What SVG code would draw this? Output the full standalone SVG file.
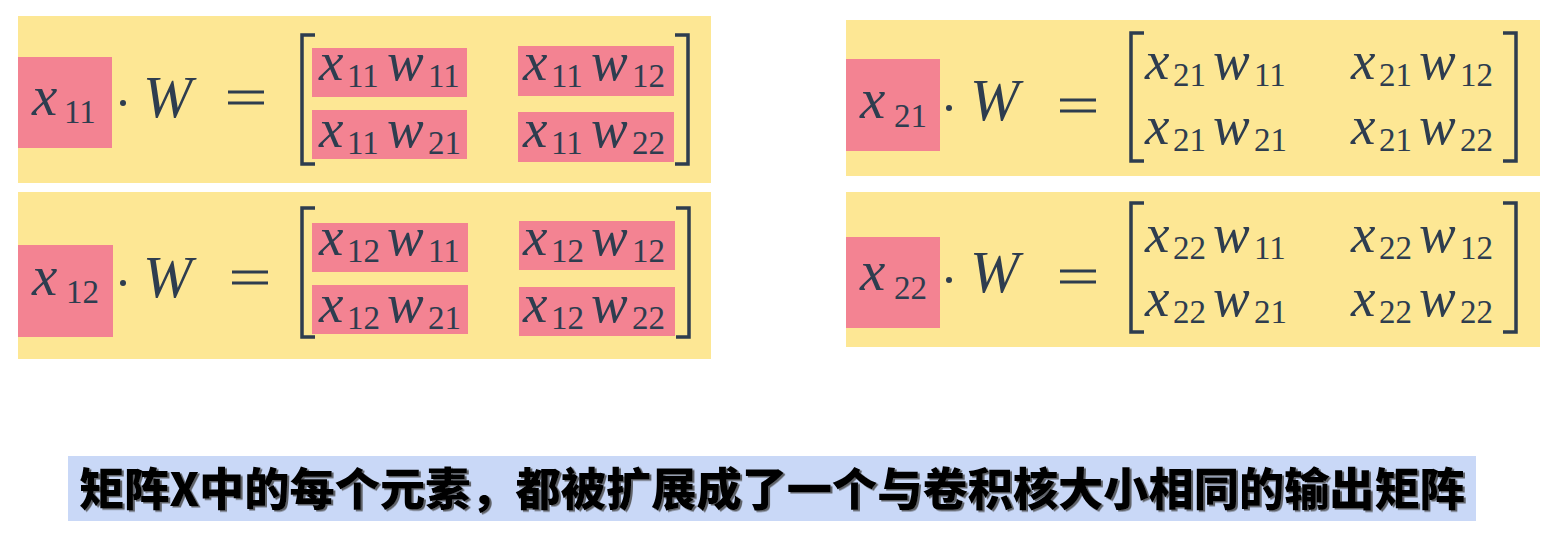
<svg xmlns="http://www.w3.org/2000/svg" width="1559" height="543" viewBox="0 0 1559 543">
<style>
.bg{fill:#ffffff}
.panel{fill:#fde794}
.hl{fill:#f38392}
.v{font-family:'Liberation Serif',serif;font-style:italic;fill:#2e3d4f;font-size:55px}
.vl{font-family:'Liberation Serif',serif;font-style:italic;fill:#2e3d4f;font-size:57px}
.W{font-family:'Liberation Serif',serif;font-style:italic;fill:#2e3d4f;font-size:59px}
.s{font-family:'Liberation Serif',serif;font-style:normal;fill:#2e3d4f;font-size:33px}
.br{fill:none;stroke:#2e3d4f;stroke-width:3.5}
.eq{fill:#2e3d4f}
.cap{font-family:'Noto Sans CJK SC','Noto Sans',sans-serif;font-weight:900;font-size:45px;fill:#000}
</style>
<defs>
<filter id="sh" x="-5%" y="-20%" width="110%" height="140%">
<feDropShadow dx="2" dy="1.5" stdDeviation="0.6" flood-color="#444" flood-opacity="0.8"/>
</filter>
</defs>
<rect class="bg" x="0" y="0" width="1559" height="543"/>

<g id="eq-x11">
<rect class="panel" x="18" y="16" width="693" height="167"/>
<rect class="hl" x="18" y="57" width="94" height="91"/>
<text class="vl" x="32" y="115">x</text>
<text class="s" x="64" y="123" font-size="34">11</text>
<circle class="eq" cx="123" cy="103" r="3"/>
<text class="W" x="143" y="117">W</text>
<rect class="eq" x="228" y="90.5" width="36" height="3"/>
<rect class="eq" x="228" y="101.5" width="36" height="3"/>
<path class="br" d="M315,35 H302 V164 H315"/>
<path class="br" d="M675,35 H688 V164 H675"/>
<rect class="hl" x="312" y="48" width="155" height="49"/>
<rect class="hl" x="312" y="110" width="155" height="49"/>
<rect class="hl" x="518" y="46" width="156" height="50"/>
<rect class="hl" x="518" y="112" width="156" height="50"/>
<text class="v"><tspan x="319" y="80">x</tspan><tspan class="s" x="347" y="87">11</tspan><tspan x="387" y="80">w</tspan><tspan class="s" x="428" y="87">11</tspan></text>
<text class="v"><tspan x="523" y="80">x</tspan><tspan class="s" x="551" y="87">11</tspan><tspan x="591" y="80">w</tspan><tspan class="s" x="632" y="87">12</tspan></text>
<text class="v"><tspan x="319" y="147">x</tspan><tspan class="s" x="347" y="154">11</tspan><tspan x="387" y="147">w</tspan><tspan class="s" x="428" y="154">21</tspan></text>
<text class="v"><tspan x="523" y="147">x</tspan><tspan class="s" x="551" y="154">11</tspan><tspan x="591" y="147">w</tspan><tspan class="s" x="632" y="154">22</tspan></text>
</g>

<g id="eq-x12">
<rect class="panel" x="18" y="192" width="693" height="167"/>
<rect class="hl" x="18" y="245" width="95" height="92"/>
<text class="vl" x="32" y="295">x</text>
<text class="s" x="66" y="303" font-size="34">12</text>
<circle class="eq" cx="123" cy="283" r="3"/>
<text class="W" x="143" y="297">W</text>
<rect class="eq" x="232" y="270.5" width="36" height="3"/>
<rect class="eq" x="232" y="281.5" width="36" height="3"/>
<path class="br" d="M315,208 H302 V337 H315"/>
<path class="br" d="M676,208 H689 V337 H676"/>
<rect class="hl" x="312" y="223" width="156" height="49"/>
<rect class="hl" x="312" y="285" width="156" height="49"/>
<rect class="hl" x="519" y="221" width="156" height="49"/>
<rect class="hl" x="519" y="287" width="156" height="49"/>
<text class="v"><tspan x="319" y="255">x</tspan><tspan class="s" x="347" y="262">12</tspan><tspan x="387" y="255">w</tspan><tspan class="s" x="428" y="262">11</tspan></text>
<text class="v"><tspan x="523" y="255">x</tspan><tspan class="s" x="551" y="262">12</tspan><tspan x="591" y="255">w</tspan><tspan class="s" x="632" y="262">12</tspan></text>
<text class="v"><tspan x="319" y="322">x</tspan><tspan class="s" x="347" y="329">12</tspan><tspan x="387" y="322">w</tspan><tspan class="s" x="428" y="329">21</tspan></text>
<text class="v"><tspan x="523" y="322">x</tspan><tspan class="s" x="551" y="329">12</tspan><tspan x="591" y="322">w</tspan><tspan class="s" x="632" y="329">22</tspan></text>
</g>

<g id="eq-x21">
<rect class="panel" x="846" y="20" width="694" height="156"/>
<rect class="hl" x="846" y="59" width="94" height="92"/>
<text class="vl" x="860" y="118">x</text>
<text class="s" x="894" y="127" font-size="34">21</text>
<circle class="eq" cx="949" cy="108" r="3"/>
<text class="W" x="970" y="120">W</text>
<rect class="eq" x="1060" y="98.5" width="36" height="3"/>
<rect class="eq" x="1060" y="109.5" width="36" height="3"/>
<path class="br" d="M1144,33 H1131 V161 H1144"/>
<path class="br" d="M1503,33 H1516 V161 H1503"/>
<text class="v"><tspan x="1145" y="79">x</tspan><tspan class="s" x="1173" y="86">21</tspan><tspan x="1213" y="79">w</tspan><tspan class="s" x="1254" y="86">11</tspan></text>
<text class="v"><tspan x="1351" y="79">x</tspan><tspan class="s" x="1379" y="86">21</tspan><tspan x="1419" y="79">w</tspan><tspan class="s" x="1460" y="86">12</tspan></text>
<text class="v"><tspan x="1145" y="144">x</tspan><tspan class="s" x="1173" y="151">21</tspan><tspan x="1213" y="144">w</tspan><tspan class="s" x="1254" y="151">21</tspan></text>
<text class="v"><tspan x="1351" y="144">x</tspan><tspan class="s" x="1379" y="151">21</tspan><tspan x="1419" y="144">w</tspan><tspan class="s" x="1460" y="151">22</tspan></text>
</g>

<g id="eq-x22">
<rect class="panel" x="846" y="192" width="694" height="155"/>
<rect class="hl" x="846" y="237" width="94" height="91"/>
<text class="vl" x="860" y="290">x</text>
<text class="s" x="894" y="299" font-size="34">22</text>
<circle class="eq" cx="949" cy="280" r="3"/>
<text class="W" x="970" y="292">W</text>
<rect class="eq" x="1060" y="269.5" width="36" height="3"/>
<rect class="eq" x="1060" y="280.5" width="36" height="3"/>
<path class="br" d="M1144,203 H1131 V332 H1144"/>
<path class="br" d="M1503,203 H1516 V332 H1503"/>
<text class="v"><tspan x="1145" y="252">x</tspan><tspan class="s" x="1173" y="259">22</tspan><tspan x="1213" y="252">w</tspan><tspan class="s" x="1254" y="259">11</tspan></text>
<text class="v"><tspan x="1351" y="252">x</tspan><tspan class="s" x="1379" y="259">22</tspan><tspan x="1419" y="252">w</tspan><tspan class="s" x="1460" y="259">12</tspan></text>
<text class="v"><tspan x="1145" y="316">x</tspan><tspan class="s" x="1173" y="323">22</tspan><tspan x="1213" y="316">w</tspan><tspan class="s" x="1254" y="323">21</tspan></text>
<text class="v"><tspan x="1351" y="316">x</tspan><tspan class="s" x="1379" y="323">22</tspan><tspan x="1419" y="316">w</tspan><tspan class="s" x="1460" y="323">22</tspan></text>
</g>

<g id="caption">
<rect x="68" y="456" width="1408" height="65" fill="#c9d8f7"/>
<text class="cap" x="772" y="506" text-anchor="middle" textLength="1386" lengthAdjust="spacingAndGlyphs" filter="url(#sh)">矩阵X中的每个元素，都被扩展成了一个与卷积核大小相同的输出矩阵</text>
</g>

<g id="connectors"></g>
</svg>
